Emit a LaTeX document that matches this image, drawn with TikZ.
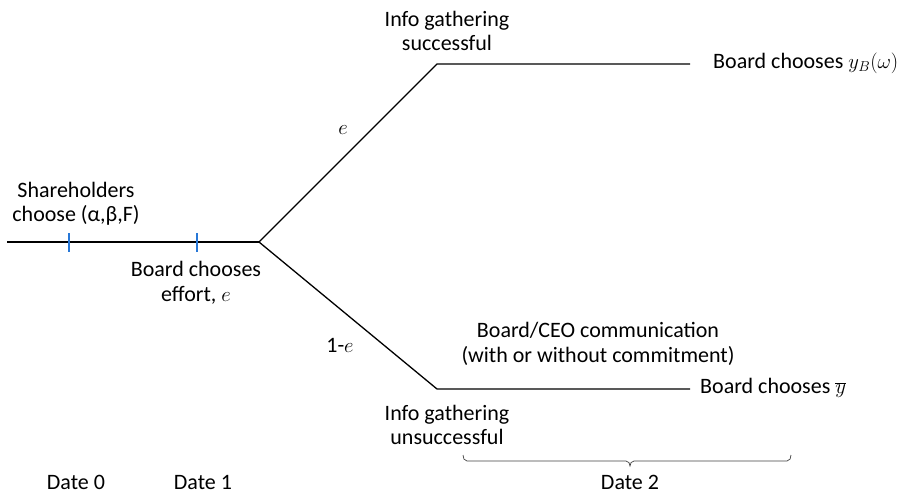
\documentclass[tikz,border=0pt]{standalone}
\usepackage{fontspec}
\setmainfont{Carlito}
\begin{document}
\begin{tikzpicture}[x=1pt,y=-1pt,
  lbl/.style={font=\fontsize{22}{24.5}\selectfont, align=center, inner sep=0pt},
  branch/.style={line width=1.3pt, black},
  tickmark/.style={line width=1.2pt, color={rgb,255:red,40;green,120;blue,215}}]
\useasboundingbox (0,0) rectangle (912,495);
% points
\coordinate (start) at (7,242);
\coordinate (fork) at (259,242);
\coordinate (up) at (437,64);
\coordinate (upend) at (690,64);
\coordinate (lo) at (437,389);
\coordinate (loend) at (690,389);
\coordinate (t0a) at (69,233); \coordinate (t0b) at (69,252);
\coordinate (t1a) at (197,233); \coordinate (t1b) at (197,252);
% lines
\draw[branch] (start) -- (fork);
\draw[branch] (fork) -- (up) -- (upend);
\draw[branch] (fork) -- (lo) -- (loend);
\draw[tickmark] (t0a) -- (t0b);
\draw[tickmark] (t1a) -- (t1b);
% texts
\node[lbl] (sh) at (76,204) {Shareholders\\choose (α,β,F)};
\node[lbl] (bce) at (196,283) {Board chooses\\effort, $e$};
\node[lbl] (pe) at (343,130) {$e$};
\node[lbl] (pne) at (340,345) {1-$e$};
\node[lbl] (igs) at (447,31) {Info gathering\\successful};
\node[lbl, anchor=west] (byb) at (713,63) {Board chooses $y_B(\omega)$};
\node[lbl] (comm) at (598,344) {Board/CEO communication\\(with or without commitment)};
\node[lbl, anchor=west] (bybar) at (700,388) {Board chooses $\overline{y}$};
\node[lbl] (igu) at (447,425) {Info gathering\\unsuccessful};
\node[lbl] (d0) at (76,482) {Date 0};
\node[lbl] (d1) at (203,482) {Date 1};
\node[lbl] (d2) at (630,482) {Date 2};
% brace
\draw[line width=0.7pt, color=black!75] (463,455) to[out=-90,in=180] (467,461) -- (626,461) to[out=0,in=90] (630,466) to[out=90,in=180] (634,461) -- (787,461) to[out=0,in=-90] (791,455);
\end{tikzpicture}
\end{document}
